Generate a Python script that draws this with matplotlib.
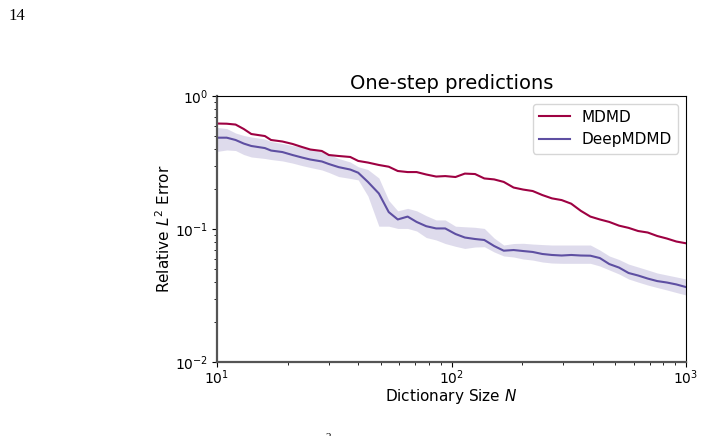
import numpy as np
import matplotlib
matplotlib.use("Agg")
import matplotlib.pyplot as plt

# dictionary sizes (log spaced, 10 .. 1000)
N = [10, 11, 12, 13, 14, 16, 17, 19, 21, 23, 25, 28, 30, 33, 37, 40, 44, 49, 54, 59,
     65, 71, 78, 86, 94, 104, 114, 126, 138, 152, 167, 184, 202, 222, 244, 268, 295, 324, 356, 391,
     429, 471, 518, 569, 625, 687, 754, 829, 910, 1000]

# relative L2 error, MDMD
mdmd = [0.621, 0.619, 0.610, 0.565, 0.518, 0.500, 0.467, 0.455, 0.436, 0.414,
        0.396, 0.386, 0.360, 0.354, 0.348, 0.325, 0.316, 0.303, 0.294, 0.273,
        0.268, 0.268, 0.257, 0.248, 0.250, 0.246, 0.261, 0.259, 0.240, 0.236,
        0.226, 0.205, 0.198, 0.193, 0.180, 0.170, 0.165, 0.155, 0.137, 0.124,
        0.118, 0.113, 0.106, 0.102, 0.0966, 0.0941, 0.0886, 0.0848, 0.0805, 0.0781]

# relative L2 error, DeepMDMD (mean and spread)
deep = [0.486, 0.486, 0.467, 0.439, 0.421, 0.406, 0.389, 0.379, 0.360, 0.345,
        0.333, 0.322, 0.308, 0.292, 0.280, 0.265, 0.226, 0.185, 0.134, 0.118,
        0.124, 0.113, 0.105, 0.101, 0.101, 0.0917, 0.0863, 0.0841, 0.0827, 0.0745,
        0.0687, 0.0695, 0.0683, 0.0672, 0.0649, 0.0638, 0.0632, 0.0638, 0.0632, 0.0630,
        0.0605, 0.0545, 0.0513, 0.0467, 0.0447, 0.0424, 0.0406, 0.0396, 0.0383, 0.0366]
deep_hi = [0.580, 0.569, 0.527, 0.505, 0.492, 0.475, 0.455, 0.439, 0.424, 0.414,
           0.399, 0.383, 0.366, 0.339, 0.319, 0.294, 0.280, 0.242, 0.164, 0.137,
           0.143, 0.137, 0.126, 0.117, 0.117, 0.105, 0.104, 0.103, 0.101, 0.0855,
           0.0758, 0.0778, 0.0781, 0.0771, 0.0764, 0.0758, 0.0758, 0.0758, 0.0758, 0.0758,
           0.0695, 0.0627, 0.0590, 0.0545, 0.0518, 0.0492, 0.0467, 0.0451, 0.0436, 0.0421]
deep_lo = [0.383, 0.393, 0.389, 0.363, 0.348, 0.339, 0.333, 0.325, 0.313, 0.300,
           0.290, 0.278, 0.266, 0.248, 0.240, 0.234, 0.177, 0.105, 0.105, 0.101,
           0.101, 0.0966, 0.0863, 0.0827, 0.0778, 0.0741, 0.0714, 0.0732, 0.0736, 0.0672,
           0.0627, 0.0616, 0.0595, 0.0584, 0.0565, 0.0555, 0.0552, 0.0552, 0.0552, 0.0552,
           0.0527, 0.0492, 0.0459, 0.0421, 0.0399, 0.0379, 0.0363, 0.0348, 0.0333, 0.0319]

red = '#9e0142'
purple = '#5e4fa2'

fig = plt.figure(figsize=(7.03, 4.36), dpi=100)
ax = fig.add_axes([0.3087, 0.1697, 0.6671, 0.6101])

ax.fill_between(N, deep_lo, deep_hi, color=purple, alpha=0.2, linewidth=0)
ax.plot(N, mdmd, color=red, lw=1.5, label='MDMD')
ax.plot(N, deep, color=purple, lw=1.5, label='DeepMDMD')

ax.set_xscale('log')
ax.set_yscale('log')
ax.set_xlim(10, 1000)
ax.set_ylim(0.01, 1)

ax.set_title('One-step predictions', fontsize=14, pad=5)
ax.set_xlabel('Dictionary Size $N$', fontsize=11, labelpad=0)
ax.set_ylabel('Relative $L^2$ Error', fontsize=11, labelpad=1)
ax.tick_params(labelsize=10)
ax.tick_params(axis='x', pad=1)
ax.tick_params(axis='y', pad=3)

for s in ['left', 'bottom']:
    ax.spines[s].set_color('#555555')
    ax.spines[s].set_linewidth(1.6)

ax.legend(loc='upper right', fontsize=11, handlelength=2.0)

# page remnants around the figure
fig.text(8 / 703, 1 - 20 / 436, '14', fontsize=12, family='Liberation Serif')
fig.text(326 / 703, 1 - 440 / 436, '2', fontsize=8, family='Liberation Serif')

fig.savefig('out.png', dpi=100)
